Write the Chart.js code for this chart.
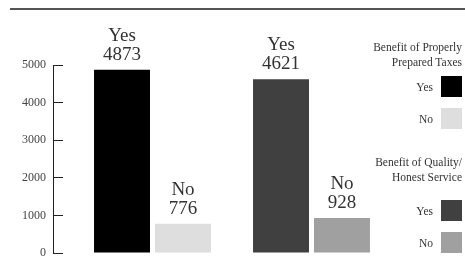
<!DOCTYPE html>
<html>
<head>
<meta charset="utf-8">
<script src="https://cdn.jsdelivr.net/npm/chart.js@4.4.1/dist/chart.umd.min.js"></script>
<style>
  html, body { margin: 0; padding: 0; background: #fff; }
  #wrap { position: relative; width: 465px; height: 267px; overflow: hidden; }
  #rule { position: absolute; left: 10px; top: 8px; width: 455px; height: 2px; background: #555; }
  .lgTitle { position: absolute; right: 3px; font-family: 'Liberation Serif', serif; font-size: 11.5px; line-height: 14.5px; color: #333; text-align: right; white-space: nowrap; }
  .lgItem { position: absolute; right: 3px; height: 21px; display: flex; align-items: center; font-family: 'Liberation Serif', serif; font-size: 11.5px; color: #333; }
  .lgItem .sw { width: 21px; height: 21px; margin-left: 8px; }
</style>
</head>
<body>
<div id="wrap">
  <canvas id="chart" width="465" height="267"></canvas>
  <div id="rule"></div>
  <div id="legend"></div>
</div>
<script>
// data
const groupTitles = [['Benefit of Properly', 'Prepared Taxes'], ['Benefit of Quality/', 'Honest Service']];
const answers = ['Yes', 'No'];
const yesValues = [4873, 4621];
const noValues = [776, 928];
const yesColors = ['#000000', '#404040'];
const noColors = ['#dedede', '#a0a0a0'];
const yMax = 5000;
const yStep = 1000;

// legend (html, right side)
const legendTops = [
  { title: 40, items: [76, 108] },
  { title: 155, items: [200, 232] }
];
const legendEl = document.getElementById('legend');
groupTitles.forEach((lines, g) => {
  const t = document.createElement('div');
  t.className = 'lgTitle';
  t.style.top = legendTops[g].title + 'px';
  t.innerHTML = lines.join('<br>');
  legendEl.appendChild(t);
  answers.forEach((a, k) => {
    const it = document.createElement('div');
    it.className = 'lgItem';
    it.style.top = legendTops[g].items[k] + 'px';
    const col = k === 0 ? yesColors[g] : noColors[g];
    it.innerHTML = '<span>' + a + '</span><span class="sw" style="background:' + col + '"></span>';
    legendEl.appendChild(it);
  });
});

// "Yes / 4873" above each bar
const barLabels = {
  id: 'barLabels',
  afterDatasetsDraw(chart) {
    const ctx = chart.ctx;
    ctx.save();
    ctx.font = '19px "Liberation Serif"';
    ctx.fillStyle = '#333';
    ctx.textAlign = 'center';
    ctx.textBaseline = 'alphabetic';
    chart.data.datasets.forEach((ds, i) => {
      chart.getDatasetMeta(i).data.forEach((bar, j) => {
        ctx.fillText(String(ds.data[j]), bar.x, bar.y - 10);
        ctx.fillText(ds.label, bar.x, bar.y - 29);
      });
    });
    ctx.restore();
  }
};

// vertical axis line (border did not show up)
const axisLine = {
  id: 'axisLine',
  afterDraw(chart) {
    const s = chart.scales.y;
    const ctx = chart.ctx;
    const x = Math.round(s.right - 0.5) + 0.5;
    ctx.save();
    ctx.strokeStyle = '#222';
    ctx.lineWidth = 1;
    ctx.beginPath();
    ctx.moveTo(x, Math.round(s.getPixelForValue(yMax)));
    ctx.lineTo(x, Math.round(s.getPixelForValue(0)) + 1);
    ctx.stroke();
    ctx.restore();
  }
};

new Chart(document.getElementById('chart'), {
  type: 'bar',
  data: {
    labels: groupTitles.map(l => l.join(' ')),
    datasets: [
      { label: answers[0], data: yesValues, backgroundColor: yesColors, xAxisID: 'x' },
      { label: answers[1], data: noValues, backgroundColor: noColors, xAxisID: 'x' }
    ]
  },
  options: {
    responsive: false,
    animation: false,
    categoryPercentage: 0.767,
    barPercentage: 0.918,
    layout: { padding: { top: 65, right: 74, bottom: 14, left: 0 } },
    plugins: { legend: { display: false }, tooltip: { enabled: false } },
    scales: {
      // the category axis shares its row with an empty spacer axis,
      // so the first group starts a bit right of the y axis
      x: { display: false, position: 'bottom', stack: 'row', stackWeight: 318, weight: 1 },
      xGap: { type: 'linear', display: false, position: 'bottom', stack: 'row', stackWeight: 20, weight: 0 },
      y: {
        min: 0,
        max: yMax,
        afterFit: s => { s.width = 53; s.paddingTop = 0; s.paddingBottom = 0; },
        border: { display: true, color: '#222', width: 1 },
        grid: { drawOnChartArea: false, drawTicks: true, tickLength: -10, color: '#222' },
        ticks: {
          stepSize: yStep,
          padding: 17,
          color: '#444',
          font: { family: 'Liberation Serif', size: 12 },
          callback: v => String(v)
        }
      }
    }
  },
  plugins: [barLabels, axisLine]
});
</script>
</body>
</html>
